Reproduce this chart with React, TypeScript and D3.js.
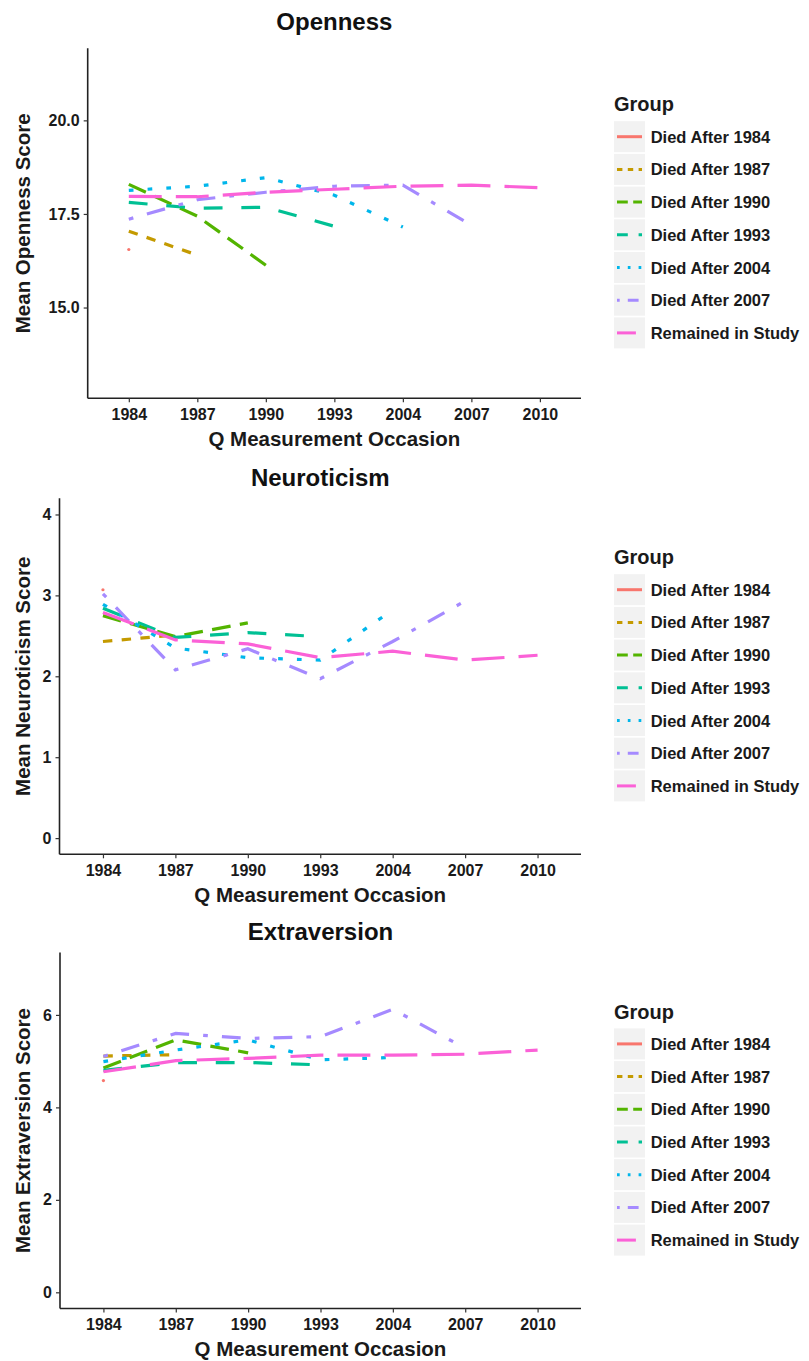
import React, { useEffect, useRef } from "react";
import * as d3 from "d3";

// measurement occasions on the x axis
const occasions = ["1984", "1987", "1990", "1993", "2004", "2007", "2010"];

const groups = [
  "Died After 1984",
  "Died After 1987",
  "Died After 1990",
  "Died After 1993",
  "Died After 2004",
  "Died After 2007",
  "Remained in Study",
];

// Openness means, one array per group (in occasion order)
const openDied1984 = [16.55];
const openDied1987 = [17.04, 16.4];
const openDied1990 = [18.29, 17.44, 16.13];
const openDied1993 = [17.81, 17.65, 17.68, 17.17];
const openDied2004 = [18.13, 18.24, 18.47, 18.0, 17.15];
const openDied2007 = [17.36, 17.88, 18.08, 18.24, 18.27, 17.2];
const openRemained = [17.97, 17.96, 18.08, 18.16, 18.24, 18.27, 18.2];

// Neuroticism means
const neuDied1984 = [3.07];
const neuDied1987 = [2.43, 2.51];
const neuDied1990 = [2.75, 2.49, 2.66];
const neuDied1993 = [2.84, 2.48, 2.54, 2.49];
const neuDied2004 = [2.89, 2.35, 2.23, 2.2, 2.82];
const neuDied2007 = [3.02, 2.08, 2.34, 1.97, 2.43, 2.93];
const neuRemained = [2.79, 2.45, 2.4, 2.23, 2.31, 2.2, 2.26];

// Extraversion means
const extDied1984 = [4.58];
const extDied1987 = [5.11, 5.14];
const extDied1990 = [4.85, 5.46, 5.18];
const extDied1993 = [4.8, 4.97, 4.97, 4.92];
const extDied2004 = [4.99, 5.24, 5.46, 5.03, 5.08];
const extDied2007 = [5.1, 5.6, 5.49, 5.53, 6.12, 5.28];
const extRemained = [4.77, 5.01, 5.06, 5.13, 5.13, 5.15, 5.24];

const opennessTicks = [15, 17.5, 20];
const neuroticismTicks = [0, 1, 2, 3, 4];
const extraversionTicks = [0, 2, 4, 6];

const colors = ["#F8766D", "#C49A00", "#53B400", "#00C094", "#00B6EB", "#A58AFF", "#FB61D7"];
// ggplot default linetypes: solid, 22, 42, 44, 13, 1343, 73
const dashUnits = [[], [2, 2], [4, 2], [4, 4], [1, 3], [1, 3, 4, 3], [7, 3]];

const FONT = "'Liberation Sans', Arial, Helvetica, sans-serif";

const panels = [
  {
    title: "Openness",
    yLabel: "Mean Openness Score",
    series: [openDied1984, openDied1987, openDied1990, openDied1993, openDied2004, openDied2007, openRemained],
    ticks: opennessTicks,
    fmt: ".1f",
    limits: [13, 21.5],
    left: 87.7,
    top: 48.3,
    bottom: 398.3,
    titleY: 21.7,
  },
  {
    title: "Neuroticism",
    yLabel: "Mean Neuroticism Score",
    series: [neuDied1984, neuDied1987, neuDied1990, neuDied1993, neuDied2004, neuDied2007, neuRemained],
    ticks: neuroticismTicks,
    fmt: "d",
    limits: [0, 4],
    left: 59.5,
    top: 498.3,
    bottom: 854.3,
    titleY: 477,
  },
  {
    title: "Extraversion",
    yLabel: "Mean Extraversion Score",
    series: [extDied1984, extDied1987, extDied1990, extDied1993, extDied2004, extDied2007, extRemained],
    ticks: extraversionTicks,
    fmt: "d",
    limits: [0, 7],
    left: 60,
    top: 952.5,
    bottom: 1308.5,
    titleY: 931.7,
  },
];

const App = () => {
  const svgRef = useRef(null);

  useEffect(() => {
    const svg = d3.select(svgRef.current);
    svg.selectAll("*").remove();
    const right = 581;
    const unit = 4.7;
    const keyUnit = 2.7;

    panels.forEach((p) => {
      const g = svg.append("g");
      const span = p.limits[1] - p.limits[0];
      const y = d3
        .scaleLinear()
        .domain([p.limits[0] - span * 0.05, p.limits[1] + span * 0.05])
        .range([p.bottom, p.top]);
      const x = d3.scalePoint().domain(occasions).range([p.left, right]).padding(0.6);
      const cx = (p.left + right) / 2;
      const cy = (p.top + p.bottom) / 2;

      // lines
      const line = d3
        .line()
        .x((d, i) => x(occasions[i]))
        .y((d) => y(d));
      p.series.forEach((vals, gi) => {
        if (vals.length === 1) {
          g.append("circle")
            .attr("cx", x(occasions[0]))
            .attr("cy", y(vals[0]))
            .attr("r", 1.6)
            .attr("fill", colors[gi]);
          return;
        }
        g.append("path")
          .attr("d", line(vals))
          .attr("fill", "none")
          .attr("stroke", colors[gi])
          .attr("stroke-width", 3.2)
          .attr("stroke-dasharray", dashUnits[gi].length ? dashUnits[gi].map((u) => u * unit).join(" ") : null);
      });

      // axes
      const xAxis = g
        .append("g")
        .attr("transform", `translate(0,${p.bottom})`)
        .call(d3.axisBottom(x).tickSizeOuter(0).tickSizeInner(4).tickPadding(6));
      const yAxis = g
        .append("g")
        .attr("transform", `translate(${p.left},0)`)
        .call(
          d3
            .axisLeft(y)
            .tickValues(p.ticks)
            .tickFormat(d3.format(p.fmt))
            .tickSizeOuter(0)
            .tickSizeInner(4)
            .tickPadding(4)
        );
      [xAxis, yAxis].forEach((a) => {
        a.select(".domain").attr("stroke", "#222").attr("stroke-width", 1.6);
        a.selectAll(".tick line").attr("stroke", "#333").attr("stroke-width", 1.2);
        a.selectAll(".tick text")
          .attr("fill", "#1a1a1a")
          .style("font-family", FONT)
          .style("font-weight", "bold")
          .style("font-size", "16px");
      });
      xAxis.select(".domain").attr("d", `M${p.left},0H${right}`);
      yAxis.select(".domain").attr("d", `M0,${p.top}V${p.bottom}`);

      // title and axis titles
      g.append("text")
        .attr("x", cx)
        .attr("y", p.titleY + 8.5)
        .attr("text-anchor", "middle")
        .style("font-family", FONT)
        .style("font-weight", "bold")
        .style("font-size", "24px")
        .attr("fill", "#111")
        .text(p.title);
      g.append("text")
        .attr("x", cx)
        .attr("y", p.bottom + 40 + 7.3)
        .attr("text-anchor", "middle")
        .style("font-family", FONT)
        .style("font-weight", "bold")
        .style("font-size", "20.5px")
        .attr("fill", "#1a1a1a")
        .text("Q Measurement Occasion");
      g.append("text")
        .attr("transform", `translate(${22.5 + 7.3},${cy}) rotate(-90)`)
        .attr("text-anchor", "middle")
        .style("font-family", FONT)
        .style("font-weight", "bold")
        .style("font-size", "20.5px")
        .attr("fill", "#1a1a1a")
        .text(p.yLabel);

      // legend
      const lg = g.append("g");
      lg.append("text")
        .attr("x", 614)
        .attr("y", cy - 119 + 7)
        .style("font-family", FONT)
        .style("font-weight", "bold")
        .style("font-size", "20px")
        .attr("fill", "#1a1a1a")
        .text("Group");
      groups.forEach((name, gi) => {
        const ry = cy - 86.6 + 32.7 * gi;
        lg.append("rect")
          .attr("x", 614)
          .attr("y", ry - 15.5)
          .attr("width", 31)
          .attr("height", 31)
          .attr("fill", "#F2F2F2");
        lg.append("line")
          .attr("x1", 617)
          .attr("x2", 642)
          .attr("y1", ry)
          .attr("y2", ry)
          .attr("stroke", colors[gi])
          .attr("stroke-width", 3)
          .attr("stroke-dasharray", dashUnits[gi].length ? dashUnits[gi].map((u) => u * keyUnit).join(" ") : null);
        lg.append("text")
          .attr("x", 650.7)
          .attr("y", ry + 6)
          .style("font-family", FONT)
          .style("font-weight", "bold")
          .style("font-size", "16.5px")
          .attr("fill", "#1a1a1a")
          .text(name);
      });
    });
  }, []);

  return (
    <svg
      ref={svgRef}
      width={809}
      height={1361}
      style={{ position: "absolute", left: 0, top: 0, background: "#fff" }}
    ></svg>
  );
};

export default App;
